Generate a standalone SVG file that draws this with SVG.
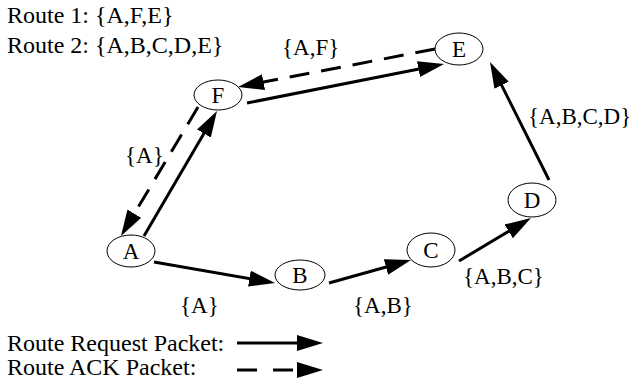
<svg xmlns="http://www.w3.org/2000/svg" width="634" height="385" viewBox="0 0 634 385">
<style>
  text { font-family: "Liberation Serif", "Times New Roman", serif; fill: #000; }
  .big { font-size: 24px; }
  .lbl { font-size: 23px; }
  .node ellipse { fill: #fff; stroke: #000; stroke-width: 1; }
  .node text { font-size: 23px; text-anchor: middle; }
  .req { stroke: #000; stroke-width: 3; fill: none; marker-end: url(#arrow); }
  .ack { stroke: #000; stroke-width: 3; fill: none; stroke-dasharray: 20 12; marker-end: url(#arrow); }
  .leg-ack { stroke-dasharray: 20 16; }
</style>
<defs>
  <marker id="arrow" markerUnits="userSpaceOnUse" markerWidth="28" markerHeight="18" refX="16" refY="8" orient="auto">
    <path d="M0,0 L26,8 L0,16 Z" fill="#000"/>
  </marker>
</defs>
<rect width="634" height="385" fill="#fff"/>

<text class="big" x="7" y="23">Route 1: {A,F,E}</text>
<text class="big" x="7" y="53">Route 2: {A,B,C,D,E}</text>

<g id="connectors">
  <line class="req" x1="144" y1="236" x2="211.96" y2="119.64"/>
  <line class="ack" x1="198" y1="107" x2="126.13" y2="227.41"/>
  <line class="req" x1="247" y1="103" x2="434.19" y2="65.94"/>
  <line class="ack" x1="435" y1="49" x2="247.82" y2="85.11"/>
  <line class="req" x1="549" y1="180" x2="494.47" y2="70.94"/>
  <line class="req" x1="154" y1="262" x2="265.15" y2="281.29"/>
  <line class="req" x1="329" y1="283" x2="401.37" y2="262.70"/>
  <line class="req" x1="459" y1="261" x2="522.41" y2="223.13"/>
</g>

<g id="edge-labels">
  <text class="lbl" x="282" y="55">{A,F}</text>
  <text class="lbl" x="125" y="163">{A}</text>
  <text class="lbl" x="528" y="124">{A,B,C,D}</text>
  <text class="lbl" x="180" y="313">{A}</text>
  <text class="lbl" x="353" y="313">{A,B}</text>
  <text class="lbl" x="463" y="284">{A,B,C}</text>
</g>

<g id="node-A" class="node"><ellipse cx="131" cy="251" rx="24" ry="16"/><text x="131" y="259">A</text></g>
<g id="node-B" class="node"><ellipse cx="300" cy="275" rx="25" ry="15"/><text x="300" y="283">B</text></g>
<g id="node-C" class="node"><ellipse cx="431" cy="250" rx="24" ry="17"/><text x="431" y="258">C</text></g>
<g id="node-D" class="node"><ellipse cx="532" cy="200" rx="24" ry="17"/><text x="532" y="208">D</text></g>
<g id="node-E" class="node"><ellipse cx="459" cy="49" rx="24" ry="16"/><text x="459" y="57">E</text></g>
<g id="node-F" class="node"><ellipse cx="218" cy="95" rx="24" ry="15"/><text x="218" y="103">F</text></g>

<g id="legend">
  <text class="big" x="7" y="351">Route Request Packet:</text>
  <text class="big" x="7" y="375">Route ACK Packet:</text>
  <line class="req" x1="237" y1="343" x2="313" y2="343"/>
  <line class="ack leg-ack" x1="237" y1="370" x2="313" y2="370"/>
</g>
</svg>
